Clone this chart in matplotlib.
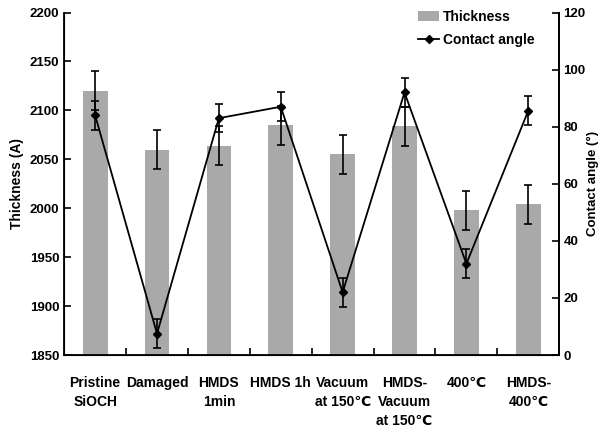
import matplotlib.pyplot as plt
from matplotlib.patches import Patch
from matplotlib.lines import Line2D

plt.rcParams['font.family'] = ['Liberation Sans', 'DejaVu Sans']
plt.rcParams['font.weight'] = 'bold'

categories = ['Pristine\nSiOCH', 'Damaged', 'HMDS\n1min', 'HMDS 1h', 'Vacuum\nat 150\u2103',
              'HMDS-\nVacuum\nat 150\u2103', '400\u2103', 'HMDS-\n400\u2103']
thickness = [2120, 2060, 2064, 2085, 2055, 2084, 1998, 2004]
thickness_err = [20, 20, 20, 20, 20, 20, 20, 20]
angle = [84, 7.5, 83, 87, 22, 92, 32, 85.6]
angle_err = [5, 5, 5, 5, 5, 5, 5, 5]

fig = plt.figure(figsize=(6, 4.33), dpi=100)
ax = fig.add_axes([0.107, 0.180, 0.825, 0.791])
x = range(len(categories))

ax.bar(x, thickness, width=0.4, color='#a9a9a9', zorder=1)
ax.errorbar(x, thickness, yerr=thickness_err, fmt='none', ecolor='black',
            elinewidth=1.2, capsize=3, capthick=1.2, zorder=2)
ax.set_ylim(1850, 2200)
ax.set_xlim(-0.5, len(categories) - 0.5)
ax.set_yticks(range(1850, 2201, 50))
ax.set_ylabel('Thickness (A)', fontsize=10, fontweight='bold', labelpad=4)
ax.set_xticks([i + 0.5 for i in range(len(categories) - 1)])
ax.set_xticklabels([])
ax.set_xticks(list(x), minor=True)
ax.set_xticklabels(categories, minor=True, fontsize=10, fontweight='bold',
                   linespacing=1.45)
ax.tick_params(axis='x', which='major', direction='in', length=5, width=1.2)
ax.tick_params(axis='x', which='minor', length=0, pad=15)
ax.tick_params(axis='y', direction='in', length=5, width=1.2, labelsize=9.5)
ax.spines['top'].set_visible(False)
for s in ['left', 'bottom', 'right']:
    ax.spines[s].set_linewidth(1.3)

ax2 = ax.twinx()
ax2.errorbar(x, angle, yerr=angle_err, fmt='-D', color='black', markersize=4,
             linewidth=1.3, elinewidth=1.2, capsize=3, capthick=1.2)
ax2.set_ylim(0, 120)
ax2.set_yticks(range(0, 121, 20))
ax2.set_ylabel('Contact angle (\u00b0)', fontsize=9.5, fontweight='bold', labelpad=1)
ax2.tick_params(axis='y', direction='in', length=5, width=1.2, labelsize=9.5, pad=3)
ax2.spines['top'].set_visible(False)
ax2.spines['right'].set_linewidth(1.3)

handles = [Patch(facecolor='#a9a9a9', edgecolor='none'),
           Line2D([], [], color='black', marker='D', markersize=4, linewidth=1.3)]
ax2.legend(handles, ['Thickness', 'Contact angle'], loc='upper left',
           bbox_to_anchor=(0.69, 1.045), frameon=False, fontsize=10,
           handlelength=1.5, handletextpad=0.25, labelspacing=0.65)

fig.savefig('out.png', dpi=100)
